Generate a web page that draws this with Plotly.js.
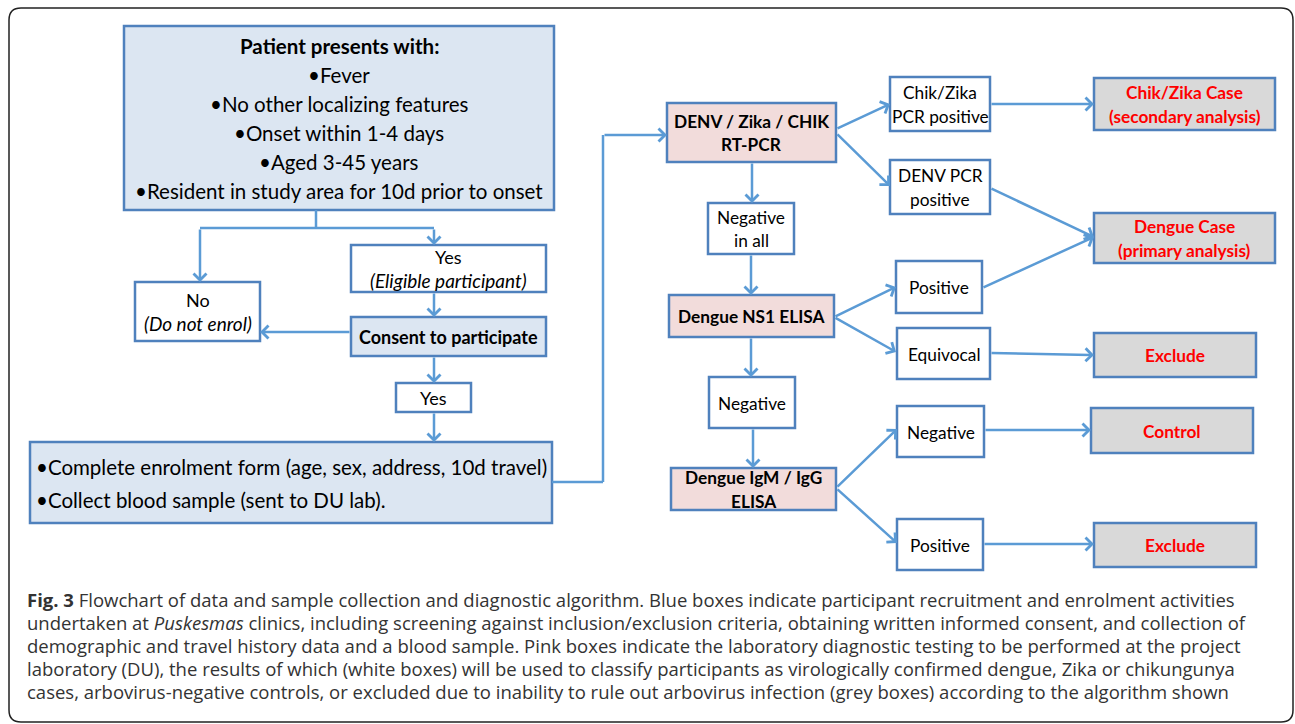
<!DOCTYPE html>
<html>
<head>
<meta charset="utf-8">
<script src="https://cdn.plot.ly/plotly-3.0.1.min.js"></script>
<style>
html,body{margin:0;padding:0;background:#fff;}
#chart{width:1295px;height:724px;}
</style>
</head>
<body>
<div id="chart"></div>
<script>
// ---------- DATA: node identifiers, texts and categories ----------
const boxIds = ['criteria','eligible','noEnrol','consent','yes','enrol',
  'pcr','chikPos','denvPos','chikCase','dengueCase','negAll','ns1','ns1Pos',
  'equivocal','exclude1','negative','igm','igmNeg','control','igmPos','exclude2'];

const boxText = [
  ['<b>Patient presents with:</b>','•Fever','•No other localizing features','•Onset within 1-4 days','•Aged 3-45 years','•Resident in study area for 10d prior to onset'],
  ['Yes','<i>(Eligible participant)</i>'],
  ['No','<i>(Do not enrol)</i>'],
  ['<b>Consent to participate</b>'],
  ['Yes'],
  ['•Complete enrolment form (age, sex, address, 10d travel)','•Collect blood sample (sent to DU lab).'],
  ['<b>DENV / Zika / CHIK</b>','<b>RT-PCR</b>'],
  ['Chik/Zika','PCR positive'],
  ['DENV PCR','positive'],
  ['<b>Chik/Zika Case</b>','<b>(secondary analysis)</b>'],
  ['<b>Dengue Case</b>','<b>(primary analysis)</b>'],
  ['Negative','in all'],
  ['<b>Dengue NS1 ELISA</b>'],
  ['Positive'],
  ['Equivocal'],
  ['<b>Exclude</b>'],
  ['Negative'],
  ['<b>Dengue IgM / IgG</b>','<b>ELISA</b>'],
  ['Negative'],
  ['<b>Control</b>'],
  ['Positive'],
  ['<b>Exclude</b>']
];

// box category: recruitment (blue), lab test (pink), result (white), outcome (grey)
const boxKind = ['blue','white','white','blue','white','blue',
  'pink','white','white','grey','grey','white','pink','white',
  'white','grey','white','pink','white','grey','white','grey'];

// directed edges between boxes
const edgeFrom = ['criteria','criteria','eligible','consent','consent','yes','enrol',
  'pcr','pcr','chikPos','denvPos','ns1Pos','pcr','negAll','ns1','ns1','equivocal',
  'ns1','negative','igm','igm','igmNeg','igmPos'];
const edgeTo = ['noEnrol','eligible','consent','noEnrol','yes','enrol','pcr',
  'chikPos','denvPos','chikCase','dengueCase','dengueCase','negAll','ns1','ns1Pos','equivocal','exclude1',
  'negative','igm','igmNeg','igmPos','control','exclude2'];

const captionLines = [
  '<b>Fig. 3</b> Flowchart of data and sample collection and diagnostic algorithm. Blue boxes indicate participant recruitment and enrolment activities',
  'undertaken at <i>Puskesmas</i> clinics, including screening against inclusion/exclusion criteria, obtaining written informed consent, and collection of',
  'demographic and travel history data and a blood sample. Pink boxes indicate the laboratory diagnostic testing to be performed at the project',
  'laboratory (DU), the results of which (white boxes) will be used to classify participants as virologically confirmed dengue, Zika or chikungunya',
  'cases, arbovirus-negative controls, or excluded due to inability to rule out arbovirus infection (grey boxes) according to the algorithm shown'
];

// ---------- LAYOUT GEOMETRY (pixel-space positions, kept apart from data) ----------
const boxGeom = {
  criteria:[124,554,26,210], eligible:[351,546,245,292], noEnrol:[135,260,282,341],
  consent:[351,546,317,356], yes:[396,471,383,412], enrol:[30,552,442,523],
  pcr:[667,836,103,162], chikPos:[890,990,77,131], denvPos:[890,990,160,214],
  chikCase:[1094,1275,78,130], dengueCase:[1094,1275,213,263], negAll:[708,794,203,254],
  ns1:[669,834,295,337], ns1Pos:[896,982,261,313], equivocal:[897,990,328,379],
  exclude1:[1094,1256,333,377], negative:[709,795,377,428], igm:[671,836,468,510],
  igmNeg:[897,984,406,457], control:[1091,1253,408,453], igmPos:[897,983,519,570],
  exclude2:[1094,1256,523,567]
};
const lineGap = {criteria:29, enrol:33};
const fontSize = {criteria:20.5, enrol:20.5, eligible:18, noEnrol:18, consent:18, yes:18};
// connector routes: intermediate points (tail ... head)
const routes = [
  [[316,210],[316,228],[200,228],[200,282]],
  [[316,228],[434,228],[434,245]],
  [[434,292],[434,317]],
  [[351,332],[260,332]],
  [[434,356],[434,383]],
  [[434,412],[434,442]],
  [[552,482],[603,482],[603,135],[667,135]],
  [[836,129],[890,104]],
  [[836,133],[890,186]],
  [[990,104],[1094,104]],
  [[990,188],[1094,237]],
  [[982,288],[1094,237]],
  [[752,162],[752,203]],
  [[751,254],[751,295]],
  [[834,317],[896,287]],
  [[834,317],[896,352]],
  [[990,353],[1094,355]],
  [[751,337],[751,377]],
  [[753,428],[753,468]],
  [[836,488],[897,429]],
  [[836,488],[897,543]],
  [[984,430],[1091,430]],
  [[983,544],[1094,544]]
];

// ---------- STYLES ----------
const fills = {blue:'#dce6f2', pink:'#f2dcdb', white:'#ffffff', grey:'#d9d9d9'};
const BORDER = '#4f81bd';
const ARROW = '#5b9bd5';
const BOX_FONT = 'Lato, Carlito, Calibri, sans-serif';
const CAP_FONT = '"Open Sans", sans-serif';

const shapes = [];
const annotations = [];

// outer rounded frame
const fx0 = 9, fx1 = 1293, fy0 = 8, fy1 = 722, r = 12;
shapes.push({
  type:'path', xref:'x', yref:'y',
  path:`M ${fx0+r},${fy0} L ${fx1-r},${fy0} Q ${fx1},${fy0} ${fx1},${fy0+r} L ${fx1},${fy1-r} Q ${fx1},${fy1} ${fx1-r},${fy1} L ${fx0+r},${fy1} Q ${fx0},${fy1} ${fx0},${fy1-r} L ${fx0},${fy0+r} Q ${fx0},${fy0} ${fx0+r},${fy0} Z`,
  line:{color:'#222', width:1.5}, fillcolor:'rgba(0,0,0,0)', layer:'below'
});

// boxes
boxIds.forEach((id, i) => {
  const g = boxGeom[id];
  const kind = boxKind[i];
  shapes.push({type:'rect', xref:'x', yref:'y', x0:g[0], x1:g[1], y0:g[2], y1:g[3],
    fillcolor:fills[kind], line:{color:BORDER, width:2.5}, layer:'below'});
  const lines = boxText[i];
  const gap = lineGap[id] || 23.5;
  const cy = (g[2]+g[3])/2 + 0.5;
  const left = (id === 'enrol');
  const base = fontSize[id] || 17.3;
  lines.forEach((t, k) => {
    const italic = t.indexOf('<i>') === 0;
    annotations.push({
      xref:'x', yref:'y',
      x: left ? g[0]+4 : (g[0]+g[1])/2,
      y: cy + (k - (lines.length-1)/2)*gap,
      text:t, showarrow:false,
      xanchor: left ? 'left' : 'center', yanchor:'middle',
      font:{family:BOX_FONT, size: italic ? base+1 : base, color: kind==='grey' ? '#ff0000' : '#000'}
    });
  });
});

// connectors
routes.forEach(pts => {
  for (let k = 0; k < pts.length-2; k++) {
    shapes.push({type:'line', xref:'x', yref:'y', x0:pts[k][0], y0:pts[k][1], x1:pts[k+1][0], y1:pts[k+1][1],
      line:{color:ARROW, width:2.5}, layer:'above'});
  }
  const a = pts[pts.length-2], b = pts[pts.length-1];
  annotations.push({xref:'x', yref:'y', axref:'x', ayref:'y', x:b[0], y:b[1], ax:a[0], ay:a[1],
    text:'', showarrow:true, arrowhead:4, arrowsize:1, arrowwidth:2.5, arrowcolor:ARROW, standoff:0});
});

// caption
captionLines.forEach((t, k) => {
  annotations.push({xref:'x', yref:'y', x:25, y:599 + k*23.2, text:t, showarrow:false,
    xanchor:'left', yanchor:'middle', font:{family:CAP_FONT, size:18.5, color:'#333'}});
});

const layout = {
  width:1295, height:724,
  margin:{l:0, r:0, t:0, b:0, pad:0},
  paper_bgcolor:'#ffffff', plot_bgcolor:'#ffffff',
  xaxis:{range:[0,1295], visible:false, fixedrange:true},
  yaxis:{range:[724,0], visible:false, fixedrange:true},
  showlegend:false,
  shapes:shapes, annotations:annotations
};

Plotly.newPlot('chart', [], layout, {displayModeBar:false, staticPlot:true});
</script>
</body>
</html>
